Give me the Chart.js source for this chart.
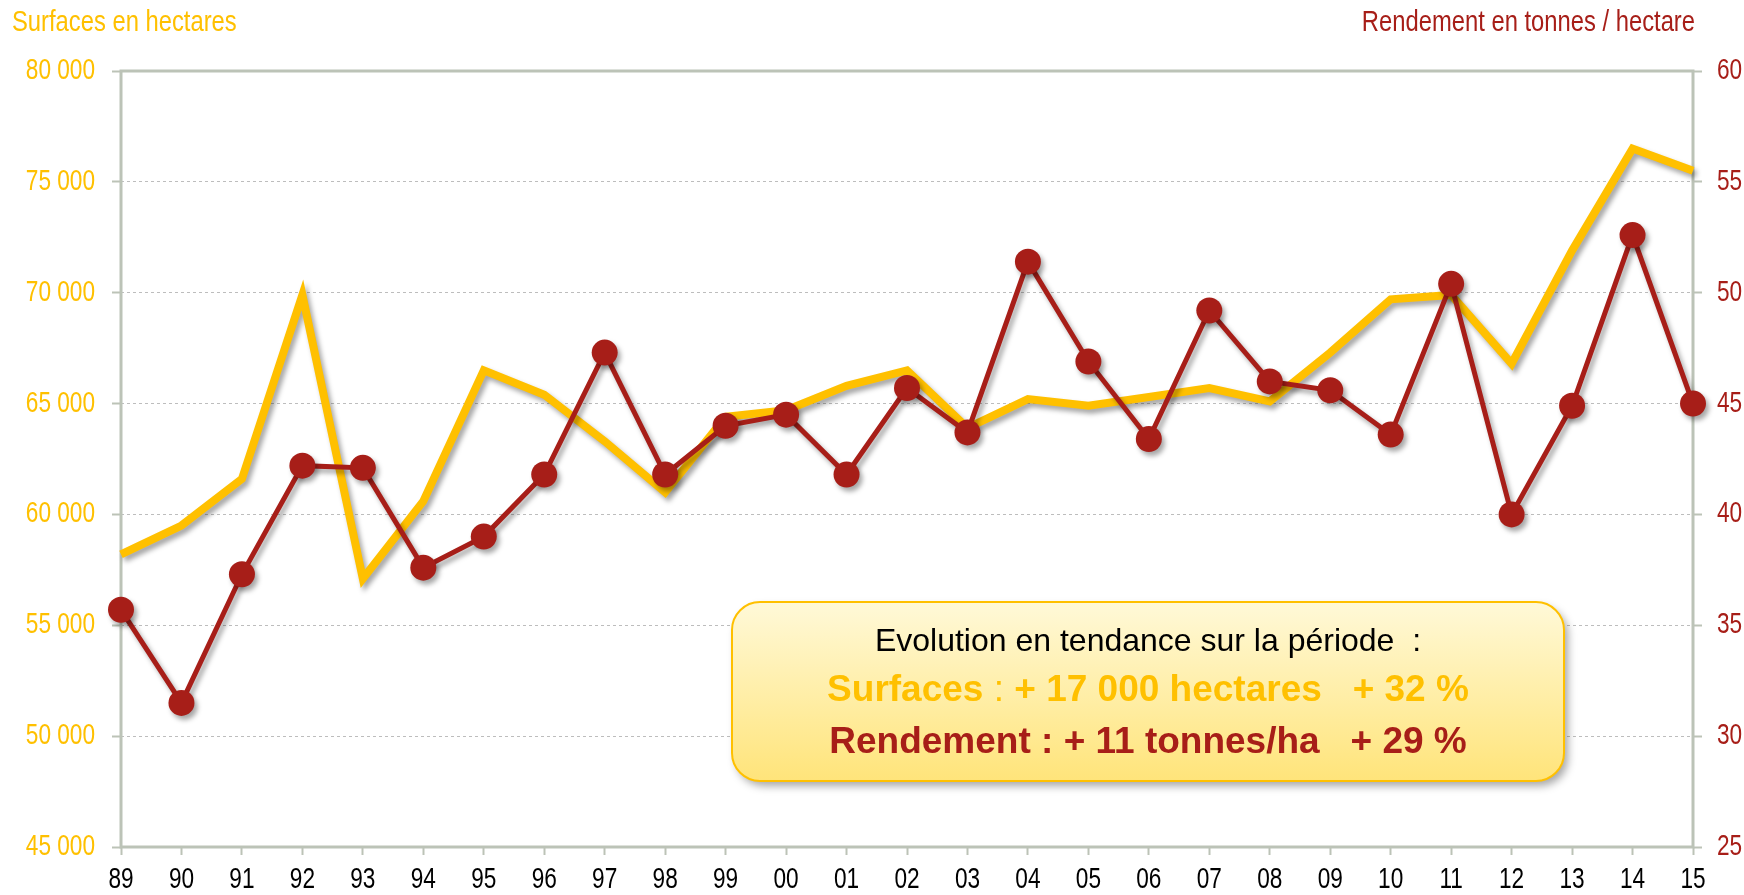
<!DOCTYPE html>
<html lang="fr">
<head>
<meta charset="utf-8">
<title>Surfaces et rendement</title>
<script src="https://cdn.jsdelivr.net/npm/chart.js@4.4.1/dist/chart.umd.min.js"></script>
<style>
  html, body { margin: 0; padding: 0; background: #fff; }
  #wrap { width: 1744px; height: 895px; }
</style>
</head>
<body>
<div id="wrap"><canvas id="myChart" width="1744" height="895"></canvas></div>
<script>
'use strict';

const years = ['89', '90', '91', '92', '93', '94', '95', '96', '97', '98', '99', '00', '01', '02',
  '03', '04', '05', '06', '07', '08', '09', '10', '11', '12', '13', '14', '15'];
const surfaces = [58200, 59500, 61600, 69900, 57100, 60600, 66500, 65400, 63300, 61000, 64400, 64700, 65800, 66500,
  63900, 65200, 64900, 65300, 65700, 65100, 67300, 69700, 69900, 66800, 71900, 76500, 75500];
const rendement = [35.7, 31.5, 37.3, 42.2, 42.1, 37.6, 39.0, 41.8, 47.3, 41.8, 44.0, 44.5, 41.8, 45.7,
  43.7, 51.4, 46.9, 43.4, 49.2, 46.0, 45.6, 43.6, 50.4, 40.0, 44.9, 52.6, 45.0];
const surfaceTicks = [45000, 50000, 55000, 60000, 65000, 70000, 75000, 80000];
const rendementTicks = [25, 30, 35, 40, 45, 50, 55, 60];

const titleLeft = 'Surfaces en hectares';
const titleRight = 'Rendement en tonnes / hectare';
const boxLine1 = 'Evolution en tendance sur la période  :';
const boxLine2 = ['Surfaces', ' : ', '+ 17 000 hectares   + 32 %'];
const boxLine3 = 'Rendement : + 11 tonnes/ha   + 29 %';

const yellow = '#FFC000';
const red = '#A71E18';
const frameColor = '#BCC3B7';
const plain = '"Liberation Sans", Arial, sans-serif';

function fmt(v) {
  // 80000 -> "80 000"
  return String(v).replace(/\B(?=(\d{3})+(?!\d))/g, ' ');
}

// no narrow font installed, so squeeze Liberation Sans sideways
function drawNarrow(ctx, text, x, y, align, color, squeeze) {
  ctx.save();
  ctx.translate(x, y);
  ctx.scale(squeeze || 0.78, 1);
  ctx.font = '29px ' + plain;
  ctx.fillStyle = color;
  ctx.textAlign = align;
  ctx.textBaseline = 'middle';
  ctx.fillText(text, 0, 0);
  ctx.restore();
}

// grey drop shadow under both lines
const shadowPlugin = {
  id: 'shadow',
  beforeDatasetDraw(chart) {
    const ctx = chart.ctx;
    ctx.save();
    ctx.shadowColor = 'rgba(0, 0, 0, 0.35)';
    ctx.shadowBlur = 5;
    ctx.shadowOffsetX = 3;
    ctx.shadowOffsetY = 4;
  },
  afterDatasetDraw(chart) {
    chart.ctx.restore();
  }
};

const framePlugin = {
  id: 'frame',
  beforeDatasetsDraw(chart) {
    const ctx = chart.ctx;
    const a = chart.chartArea;
    ctx.save();
    ctx.strokeStyle = frameColor;
    ctx.lineWidth = 3;
    ctx.strokeRect(a.left, a.top, a.right - a.left, a.bottom - a.top);
    ctx.restore();
  }
};

const textPlugin = {
  id: 'texts',
  afterDraw(chart) {
    const ctx = chart.ctx;
    const { x, y, y1 } = chart.scales;

    // axis labels
    x.ticks.forEach((t, i) => {
      drawNarrow(ctx, x.getLabelForValue(t.value), x.getPixelForTick(i), x.top + 33, 'center', '#000');
    });
    y.ticks.forEach(t => {
      drawNarrow(ctx, fmt(t.value), y.right - 26, y.getPixelForValue(t.value), 'right', yellow);
    });
    y1.ticks.forEach(t => {
      drawNarrow(ctx, String(t.value), y1.left + 24, y1.getPixelForValue(t.value), 'left', red);
    });

    drawNarrow(ctx, titleLeft, 12, 23, 'left', yellow, 0.82);
    drawNarrow(ctx, titleRight, 1695, 23, 'right', red, 0.82);

    // summary box
    ctx.save();
    const bx = 732, by = 602, bw = 832, bh = 179;
    ctx.save();
    ctx.shadowColor = 'rgba(0, 0, 0, 0.35)';
    ctx.shadowBlur = 8;
    ctx.shadowOffsetX = 4;
    ctx.shadowOffsetY = 5;
    const grad = ctx.createLinearGradient(0, by, 0, by + bh);
    grad.addColorStop(0, '#FFF9D8');
    grad.addColorStop(1, '#FFE47A');
    ctx.fillStyle = grad;
    ctx.beginPath();
    ctx.roundRect(bx, by, bw, bh, 28);
    ctx.fill();
    ctx.restore();
    ctx.strokeStyle = yellow;
    ctx.lineWidth = 2;
    ctx.beginPath();
    ctx.roundRect(bx, by, bw, bh, 28);
    ctx.stroke();

    const cx = bx + bw / 2;
    ctx.textBaseline = 'middle';
    ctx.textAlign = 'center';
    ctx.fillStyle = '#000';
    ctx.font = '32px ' + plain;
    ctx.fillText(boxLine1, cx, 642);

    // line 2 in pieces: bold / regular / bold
    const fonts = ['bold 37px ' + plain, '37px ' + plain, 'bold 37px ' + plain];
    let total = 0;
    const widths = boxLine2.map((t, i) => {
      ctx.font = fonts[i];
      const w = ctx.measureText(t).width;
      total += w;
      return w;
    });
    let px = cx - total / 2;
    ctx.textAlign = 'left';
    ctx.fillStyle = yellow;
    boxLine2.forEach((t, i) => {
      ctx.font = fonts[i];
      ctx.fillText(t, px, 691);
      px += widths[i];
    });

    ctx.textAlign = 'center';
    ctx.fillStyle = red;
    ctx.font = 'bold 37px ' + plain;
    ctx.fillText(boxLine3, cx, 743);
    ctx.restore();
  }
};

const ctx = document.getElementById('myChart').getContext('2d');

const config = {
  type: 'line',
  data: {
    labels: years,
    datasets: [{
      label: 'Rendement',
      data: rendement,
      yAxisID: 'y1',
      borderColor: red,
      backgroundColor: red,
      borderWidth: 5,
      pointRadius: 13,
      pointBorderWidth: 0,
      pointBackgroundColor: red,
      tension: 0,
      clip: false,
      order: 1
    },
    {
      label: 'Surfaces',
      data: surfaces,
      yAxisID: 'y',
      borderColor: yellow,
      borderWidth: 8,
      borderJoinStyle: 'miter',
      pointRadius: 0,
      tension: 0,
      clip: false,
      order: 2
    }]
  },
  options: {
    responsive: false,
    animation: false,
    events: [],
    layout: { padding: { top: 71, left: 0, right: 0, bottom: 0 } },
    plugins: {
      legend: { display: false },
      tooltip: { enabled: false }
    },
    scales: {
      x: {
        afterFit: s => { s.height = 48; },
        grid: { drawOnChartArea: false, drawTicks: true, tickLength: 8, tickColor: frameColor, tickWidth: 2 },
        border: { display: false },
        ticks: { display: false, autoSkip: false }
      },
      y: {
        position: 'left',
        min: 45000,
        max: 80000,
        afterFit: s => { s.width = 121; },
        afterBuildTicks: s => { s.ticks = surfaceTicks.map(v => ({ value: v })); },
        grid: {
          color: c => (c.tick && (c.tick.value === 80000 || c.tick.value === 45000)) ? 'rgba(0,0,0,0)' : '#BDBDBD',
          lineWidth: 1,
          tickLength: 9,
          tickColor: frameColor,
          tickWidth: 2,
          tickBorderDash: []
        },
        border: { display: false, dash: [3, 3] },
        ticks: { display: false }
      },
      y1: {
        position: 'right',
        min: 25,
        max: 60,
        afterFit: s => { s.width = 51; },
        afterBuildTicks: s => { s.ticks = rendementTicks.map(v => ({ value: v })); },
        grid: { drawOnChartArea: false, tickLength: 9, tickColor: frameColor, tickWidth: 2 },
        border: { display: false },
        ticks: { display: false }
      }
    }
  },
  plugins: [framePlugin, shadowPlugin, textPlugin]
};

const myChart = new Chart(ctx, config);
</script>
</body>
</html>
